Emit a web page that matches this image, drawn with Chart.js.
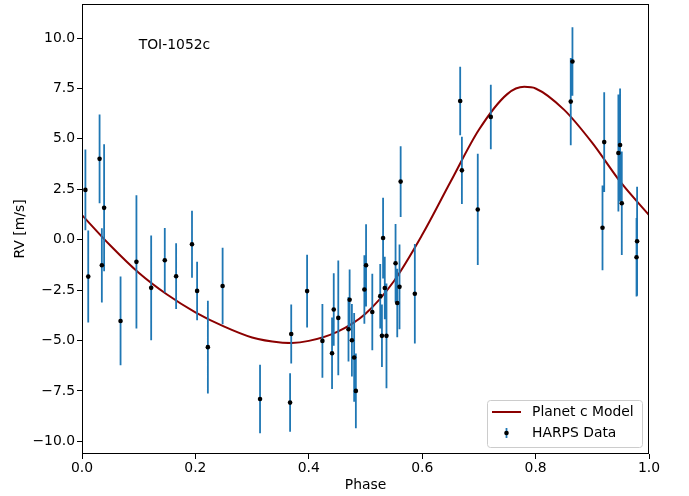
<!DOCTYPE html>
<html lang="en">
<head>
    <meta charset="utf-8">
    <title>TOI-1052c RV</title>
    <style>
        body { margin: 0; background: #fff; }
    </style>
</head>
<body>
    <canvas id="rvChart" width="689" height="496"></canvas>
    <script src="https://cdn.jsdelivr.net/npm/chart.js"></script>
    <script>
        // HARPS radial velocities folded on planet c period
        const phase = [0.006, 0.011, 0.031, 0.035, 0.039, 0.068, 0.096, 0.122, 0.146, 0.166,
            0.194, 0.203, 0.222, 0.248, 0.314, 0.369, 0.367, 0.397, 0.424, 0.441,
            0.444, 0.452, 0.470, 0.472, 0.476, 0.480, 0.483, 0.498, 0.501, 0.512,
            0.526, 0.529, 0.531, 0.534, 0.537, 0.553, 0.556, 0.560, 0.562, 0.587,
            0.667, 0.670, 0.698, 0.721, 0.862, 0.865, 0.918, 0.921, 0.946, 0.949,
            0.952, 0.978, 0.979]
        const rv = [2.47, -1.83, 4.01, -1.27, 1.58, -4.03, -1.10, -2.39, -1.02, -1.81,
            -0.23, -2.54, -5.33, -2.30, -7.90, -4.68, -8.08, -2.55, -5.02, -5.63,
            -3.46, -3.88, -4.44, -2.98, -4.99, -5.84, -7.50, -2.47, -1.27, -3.59,
            -2.80, -4.77, 0.08, -2.40, -4.77, -1.17, -3.14, -2.34, 2.88, -2.68,
            6.88, 3.44, 1.50, 6.09, 6.85, 8.84, 0.59, 4.84, 4.30, 4.70,
            1.81, -0.87, -0.08]
        const rvErr = [2.0, 2.28, 2.2, 1.84, 3.15, 2.2, 3.3, 2.6, 1.6, 1.63,
            1.66, 1.45, 2.3, 1.9, 1.7, 1.46, 1.45, 1.8, 1.83, 1.77,
            1.8, 2.85, 1.6, 1.5, 1.8, 2.2, 1.85, 1.7, 2.04, 1.9,
            1.6, 1.55, 2.0, 1.55, 2.6, 1.95, 1.7, 2.1, 1.75, 2.47,
            1.7, 1.67, 2.76, 1.6, 2.16, 1.7, 2.1, 2.47, 2.9, 2.8,
            2.57, 1.95, 2.7]

        // Keplerian model
        const modelPhase = [0, 0.05, 0.1, 0.15, 0.2, 0.25, 0.3, 0.35, 0.37, 0.4, 0.45, 0.5,
            0.55, 0.6, 0.65, 0.7, 0.75, 0.78, 0.8, 0.85, 0.9, 0.95, 1.0]
        const modelRv = [1.22, -0.29, -1.64, -2.72, -3.6, -4.3, -4.85, -5.1, -5.12, -5.02, -4.57, -3.67,
            -2.06, 0.24, 2.87, 5.45, 7.22, 7.58, 7.5, 6.45, 4.8, 2.85, 1.22]

        const xTicks = [0.0, 0.2, 0.4, 0.6, 0.8, 1.0]
        const yTicks = [-10.0, -7.5, -5.0, -2.5, 0.0, 2.5, 5.0, 7.5, 10.0]

        Chart.defaults.font.family = "'DejaVu Sans', sans-serif"
        Chart.defaults.font.size = 13.9
        Chart.defaults.color = '#000'

        const fmt = v => v.toFixed(1).replace('-', '\u2212')

        const errorBars = {
            id: 'errorBars',
            beforeDatasetDraw(chart, args) {
                // draw the vertical error bars under the data points
                if (args.index !== 1) return
                const { ctx, scales: { x, y } } = chart
                ctx.save()
                ctx.strokeStyle = '#1f77b4'
                ctx.lineWidth = 1.8
                ctx.beginPath()
                phase.forEach((p, i) => {
                    const px = x.getPixelForValue(p)
                    ctx.moveTo(px, y.getPixelForValue(rv[i] + rvErr[i]))
                    ctx.lineTo(px, y.getPixelForValue(rv[i] - rvErr[i]))
                })
                ctx.stroke()
                ctx.restore()
            }
        }

        const frameAndLegend = {
            id: 'frameAndLegend',
            afterDatasetsDraw(chart) {
                const { ctx, chartArea: a } = chart
                ctx.save()
                // axes frame
                ctx.strokeStyle = '#000'
                ctx.lineWidth = 1
                ctx.strokeRect(a.left + 0.5, a.top + 0.5, a.right - a.left - 1, a.bottom - a.top - 1)

                // planet label
                ctx.font = "13.9px 'DejaVu Sans'"
                ctx.fillStyle = '#000'
                ctx.textBaseline = 'alphabetic'
                ctx.textAlign = 'left'
                ctx.fillText('TOI-1052c', a.left + 0.1 * (a.right - a.left), a.top + 0.1 * (a.bottom - a.top))

                // legend, lower right
                const w = 155, h = 47
                const bx = a.right - 7 - w, by = a.bottom - 7 - h
                ctx.beginPath()
                ctx.roundRect(bx + 0.5, by + 0.5, w, h, 3)
                ctx.fillStyle = 'rgba(255,255,255,0.8)'
                ctx.fill()
                ctx.strokeStyle = '#cccccc'
                ctx.stroke()

                const y1 = by + 12, y2 = by + 33
                ctx.strokeStyle = '#8b0000'
                ctx.lineWidth = 2
                ctx.beginPath()
                ctx.moveTo(bx + 5, y1)
                ctx.lineTo(bx + 34, y1)
                ctx.stroke()

                ctx.strokeStyle = '#1f77b4'
                ctx.lineWidth = 1.8
                ctx.beginPath()
                ctx.moveTo(bx + 19.5, y2 - 5)
                ctx.lineTo(bx + 19.5, y2 + 5)
                ctx.stroke()
                ctx.fillStyle = '#000'
                ctx.beginPath()
                ctx.arc(bx + 19.5, y2, 2.3, 0, Math.PI * 2)
                ctx.fill()

                ctx.textBaseline = 'middle'
                ctx.fillText('Planet c Model', bx + 45, y1)
                ctx.fillText('HARPS Data', bx + 45, y2)
                ctx.restore()
            }
        }

        const config = {
            type: 'scatter',
            data: {
                datasets: [
                    {
                        label: 'Planet c Model',
                        data: modelPhase.map((p, i) => ({ x: p, y: modelRv[i] })),
                        showLine: true,
                        borderColor: '#8b0000',
                        borderWidth: 2,
                        pointRadius: 0,
                        cubicInterpolationMode: 'monotone',
                        order: 2
                    },
                    {
                        label: 'HARPS Data',
                        data: phase.map((p, i) => ({ x: p, y: rv[i] })),
                        backgroundColor: '#000',
                        borderColor: '#000',
                        pointRadius: 2.3,
                        borderWidth: 0,
                        order: 1
                    }
                ]
            },
            options: {
                responsive: false,
                animation: false,
                layout: { padding: { left: 0, right: 40, top: 4, bottom: 0 } },
                plugins: {
                    legend: { display: false },
                    tooltip: { enabled: false }
                },
                scales: {
                    x: {
                        type: 'linear',
                        min: 0,
                        max: 1,
                        afterBuildTicks: s => { s.ticks = xTicks.map(v => ({ value: v })) },
                        afterFit: s => { s.height = 42; s.paddingLeft = 0; s.paddingRight = 0 },
                        border: { display: false },
                        grid: { drawOnChartArea: false, tickLength: 5, tickColor: '#000', lineWidth: 1 },
                        ticks: { padding: 1, maxRotation: 0, callback: v => fmt(v) },
                        title: { display: true, text: 'Phase', padding: { top: 0, bottom: 2.6 } }
                    },
                    y: {
                        type: 'linear',
                        min: -10.63,
                        max: 11.69,
                        afterBuildTicks: s => { s.ticks = yTicks.map(v => ({ value: v })) },
                        afterFit: s => { s.width = 82; s.paddingTop = 0; s.paddingBottom = 0 },
                        border: { display: false },
                        grid: { drawOnChartArea: false, tickLength: 5, tickColor: '#000', lineWidth: 1 },
                        ticks: { padding: 2, callback: v => fmt(v) },
                        title: { display: true, text: 'RV [m/s]', padding: { top: 11.6, bottom: 0 } }
                    }
                }
            },
            plugins: [errorBars, frameAndLegend]
        }

        const ctx = document.getElementById('rvChart').getContext('2d')
        const rvChart = new Chart(ctx, config)
    </script>
</body>
</html>
